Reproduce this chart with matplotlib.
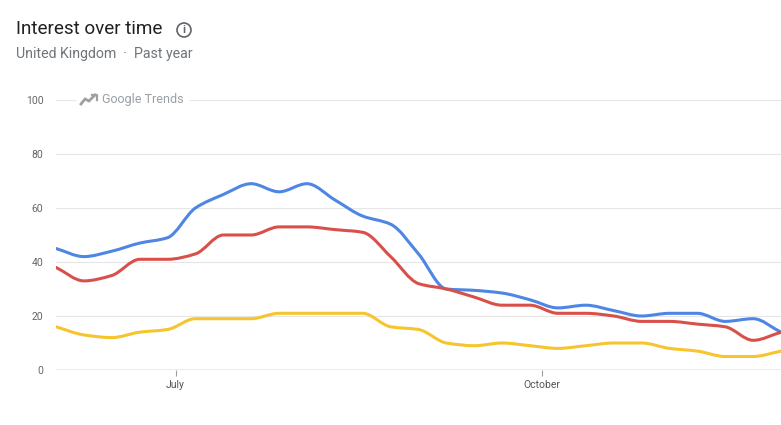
import numpy as np
import pandas as pd
import matplotlib
matplotlib.use("Agg")
import matplotlib.pyplot as plt
from matplotlib.path import Path
from matplotlib.patches import PathPatch, Circle
from matplotlib.lines import Line2D

plt.rcParams['font.family'] = ['Roboto', 'DejaVu Sans']

# weekly points
weeks = pd.date_range('2023-06-01', periods=27, freq='7D')
blue = [45, 42, 44, 47, 49, 60, 65, 69, 66, 69, 63, 57, 54, 43, 30, 29.5, 28.5,
        26, 23, 24, 22, 20, 21, 21, 18, 19, 14]
red = [38, 33, 35, 41, 41, 43, 50, 50, 53, 53, 52, 51, 42, 32, 30, 27, 24,
       24, 21, 21, 20, 18, 18, 17, 16, 11, 14]
yellow = [16, 13, 12, 14, 15, 19, 19, 19, 21, 21, 21, 21, 16, 15, 10, 9, 10,
          9, 8, 9, 10, 10, 8, 7, 5, 5, 7]

series = [(blue, '#4e86e4'), (red, '#d9504a'), (yellow, '#f6c52e')]
yticks = [0, 20, 40, 60, 80, 100]
xtick_dates = [pd.Timestamp('2023-07-01'), pd.Timestamp('2023-10-01')]
xtick_labels = ['July', 'October']


def monotone_path(x, y):
    # smooth monotone cubic through the points (like the web chart)
    x = np.asarray(x, float)
    y = np.asarray(y, float)
    h = np.diff(x)
    d = np.diff(y) / h
    m = np.zeros_like(y)
    m[0], m[-1] = d[0], d[-1]
    for i in range(1, len(y) - 1):
        if d[i - 1] * d[i] <= 0:
            m[i] = 0
        else:
            m[i] = 2 / (1 / d[i - 1] + 1 / d[i])
    verts = [(x[0], y[0])]
    codes = [Path.MOVETO]
    for i in range(len(x) - 1):
        verts += [(x[i] + h[i] / 3, y[i] + m[i] * h[i] / 3),
                  (x[i + 1] - h[i] / 3, y[i + 1] - m[i + 1] * h[i] / 3),
                  (x[i + 1], y[i + 1])]
        codes += [Path.CURVE4] * 3
    return Path(verts, codes)


W, H = 781, 425
fig = plt.figure(figsize=(W / 100, H / 100), dpi=100)

left, right, bottom, top = 56, 781, 370, 100
ax = fig.add_axes([left / W, (H - bottom) / H, (right - left) / W, (bottom - top) / H])

xnum = (weeks - weeks[0]).days / 7.0
for vals, col in series:
    p = PathPatch(monotone_path(xnum, vals), facecolor='none', edgecolor=col,
                  lw=2.2, capstyle='round', joinstyle='round', zorder=3)
    ax.add_patch(p)

ax.set_xlim(xnum[0], xnum[-1])
ax.set_ylim(0, 100)

# gridlines
for v in yticks[1:-1]:
    ax.axhline(v, color='#e6e6e6', lw=0.8, zorder=1)
ax.axhline(100, xmin=0, xmax=(75 - left) / (right - left), color='#e6e6e6', lw=0.8)
ax.axhline(100, xmin=(190 - left) / (right - left), xmax=1, color='#e6e6e6', lw=0.8)
ax.axhline(0, color='#9e9e9e', lw=1.0, zorder=2)

for s in ax.spines.values():
    s.set_visible(False)

ax.set_yticks(yticks)
ax.set_yticklabels([str(v) for v in yticks], fontsize=7.5, color='#666666')
ax.tick_params(axis='y', length=0, pad=9)

xt = [(d - weeks[0]).days / 7.0 for d in xtick_dates]
ax.set_xticks(xt)
ax.set_xticklabels(xtick_labels, fontsize=7.5, color='#555555')
ax.tick_params(axis='x', length=4, width=0.8, color='#9e9e9e', pad=3)

# header
fig.text(16 / W, 1 - 29 / H, 'Interest over time', fontsize=13.6, color='#202124',
         va='center', ha='left')
fig.text(16 / W, 1 - 54 / H, 'United Kingdom  ·  Past year', fontsize=10.2,
         color='#70757a', va='center', ha='left')
fig.add_artist(Circle((184 / 100, (H - 30) / 100), 0.07, transform=fig.dpi_scale_trans,
                      facecolor='none', edgecolor='#5f6368', lw=1.2))
fig.text(184 / W, 1 - 30 / H, 'i', fontsize=8, color='#5f6368', ha='center',
         va='center', fontweight='bold')

# Google Trends watermark
icon_x = np.array([81, 85, 89, 95]) / W
icon_y = 1 - np.array([104, 99, 101, 95]) / H
fig.add_artist(Line2D(icon_x, icon_y, color='#a0a0a0', lw=2.0, solid_joinstyle='miter'))
fig.add_artist(Line2D(np.array([92, 97, 97]) / W, 1 - np.array([95, 95, 100]) / H,
                      color='#a0a0a0', lw=1.6))
fig.text(102 / W, 1 - 100 / H, 'Google Trends', fontsize=9, color='#9aa0a6',
         ha='left', va='center')

fig.savefig('out.png', dpi=100)
